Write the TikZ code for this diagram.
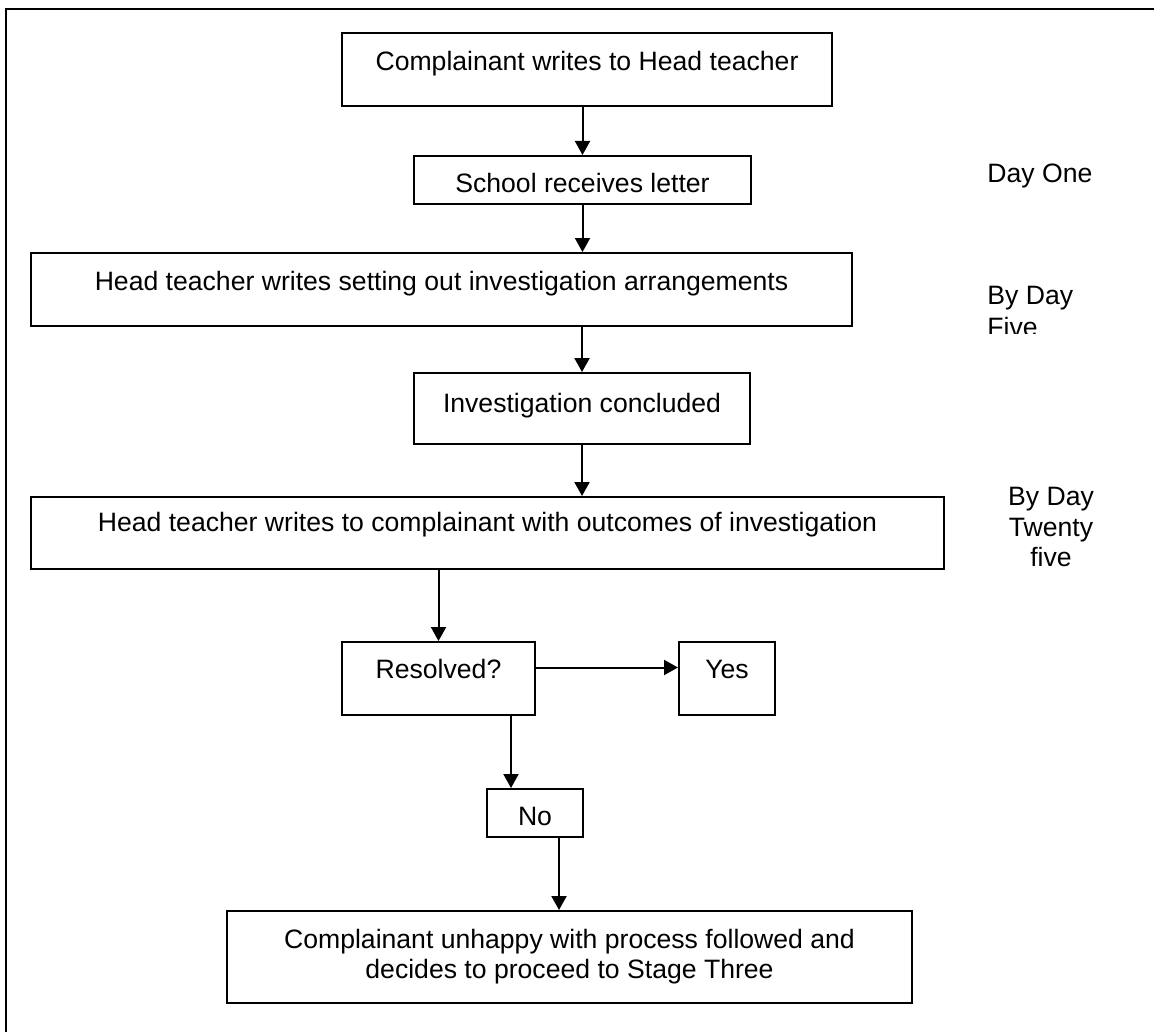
\documentclass[tikz,border=0pt]{standalone}
\usepackage{fontspec}
\setmainfont{Liberation Sans}
\usetikzlibrary{arrows.meta}

\begin{document}
\begin{tikzpicture}[x=0.5pt, y=-0.5pt, font=\fontsize{13.3}{15}\selectfont, b/.style={draw, line width=1pt, inner sep=0pt}, s/.style={line width=1pt, -{Triangle[length=7pt, width=7.5pt]}}, dl/.style={inner sep=0pt}]
		\useasboundingbox (0,0) rectangle (1154,1032);
		\draw[line width=1.2pt] (6,1032) -- (6,9) -- (1154,9);

		\node[b, minimum width=245pt, text height=19pt, text depth=17.5pt] (b1) at (587,69.5) {Complainant writes to Head teacher};
		\node[b, minimum width=168.5pt, text height=18pt, text depth=6pt] (b2) at (582.5,180) {School receives letter};
		\node[b, minimum width=410.5pt, text height=18.5pt, text depth=18pt] (b3) at (441.5,289.5) {Head teacher writes setting out investigation arrangements};
		\node[b, minimum width=168pt, text height=19.5pt, text depth=16pt] (b4) at (582,408.5) {Investigation concluded};
		\node[b, minimum width=456.5pt, text height=17pt, text depth=19pt] (b5) at (487.5,533) {Head teacher writes to complainant with outcomes of investigation};
		\node[b, minimum width=96.5pt, text height=18pt, text depth=18.5pt] (res) at (438.5,678.5) {Resolved?};
		\node[b, minimum width=48pt, text height=18pt, text depth=18.5pt] (yes) at (727,678.5) {Yes};
		\node[b, minimum width=48pt, text height=18pt, text depth=6pt] (no) at (535,813) {No};
		\node[b, minimum width=342.5pt, minimum height=46pt, align=center] (stage) at (569.5,957) {Complainant unhappy with process followed and\\decides to proceed to Stage Three};

		\node[dl, anchor=base west] (one) at (987,183) {Day One};
		\begin{scope}
			\clip (950,270) rectangle (1154,333);
			\node[dl, anchor=north west, align=left, font=\fontsize{13.3}{16}\selectfont] (five) at (987,286) {By Day\\Five};
		\end{scope}
		\node[dl, anchor=north, align=center, font=\fontsize{13.3}{15.25}\selectfont] (twentyfive) at (1051,487) {By Day\\Twenty\\five};

		\coordinate (rn) at ([xshift=36.25pt]res.south);
		\coordinate (ns) at ([xshift=12pt]no.south);

		\draw[s] (b1.south -| b2.north) -- (b2.north);
		\draw[s] (b2.south) -- (b2.south |- b3.north);
		\draw[s] (b4.north |- b3.south) -- (b4.north);
		\draw[s] (b4.south) -- (b4.south |- b5.north);
		\draw[s] (res.north |- b5.south) -- (res.north);
		\draw[s] ([yshift=5.5pt]res.east) -- ([yshift=5.5pt]yes.west);
		\draw[s] (rn) -- (rn |- no.north);
		\draw[s] (ns) -- (ns |- stage.north);
	\end{tikzpicture}
\end{document}
